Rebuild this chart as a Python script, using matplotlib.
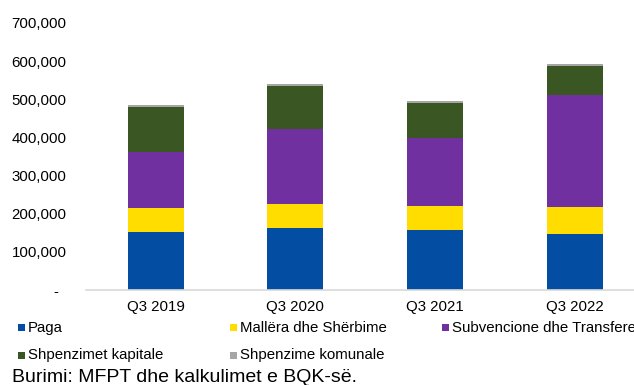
import numpy as np
import matplotlib
matplotlib.use("Agg")
import matplotlib.pyplot as plt
from matplotlib.patches import Rectangle

plt.rcParams['font.family'] = ['Liberation Sans', 'DejaVu Sans']

# quarterly spending, euro thousands
quarters = ["Q3 2019", "Q3 2020", "Q3 2021", "Q3 2022"]
paga = [151000, 162000, 157000, 147000]
mallera = [65000, 64000, 63000, 71000]
subvencione = [145000, 197000, 178000, 292000]
kapitale = [120000, 111000, 91000, 78000]
komunale = [4000, 6000, 6000, 5000]

series = [
    ("Paga", paga, "#034ea2"),
    ("Mallëra dhe Shërbime", mallera, "#ffdd00"),
    ("Subvencione dhe Transfere", subvencione, "#7030a0"),
    ("Shpenzimet kapitale", kapitale, "#3a5623"),
    ("Shpenzime komunale", komunale, "#a6a6a6"),
]

W, H = 634, 385
fig = plt.figure(figsize=(W / 100, H / 100), dpi=100)
ax = fig.add_axes([85.7 / W, 95 / H, 559.3 / W, 267 / H])

x = np.arange(len(quarters))
bottom = np.zeros(len(quarters))
for name, vals, col in series:
    ax.bar(x, vals, width=0.4, bottom=bottom, color=col, linewidth=0)
    bottom += np.array(vals)

ax.set_xlim(-0.5, 3.5)
ax.set_ylim(0, 700000)
yt = np.arange(0, 700001, 100000)
ax.set_yticks(yt)
ax.set_yticklabels(["-  "] + [f"{v:,.0f}" for v in yt[1:]])
ax.set_xticks(x)
ax.set_xticklabels(quarters)
ax.tick_params(axis='y', length=0, pad=13.7, labelsize=10.8)
ax.tick_params(axis='x', length=0, pad=7, labelsize=10.8)
for s in ("top", "right", "left"):
    ax.spines[s].set_visible(False)
ax.spines["bottom"].set_color("#d9d9d9")
ax.spines["bottom"].set_linewidth(1.2)

# legend laid out in two rows like the workbook chart
legend_pos = [(18, 327.7), (230, 327.7), (442, 327.7), (18, 355), (230, 355)]
for (name, vals, col), (lx, ly) in zip(series, legend_pos):
    fig.add_artist(Rectangle(((lx) / W, 1 - (ly + 3.5) / H), 7 / W, 7 / H,
                             transform=fig.transFigure, color=col, linewidth=0))
    fig.text((lx + 10) / W, 1 - ly / H, name, fontsize=10.8,
             va="center", ha="left")

fig.text(12 / W, 1 - 377 / H, "Burimi: MFPT dhe kalkulimet e BQK-së.",
         fontsize=14, va="center", ha="left")

fig.savefig("out.png", dpi=100)
